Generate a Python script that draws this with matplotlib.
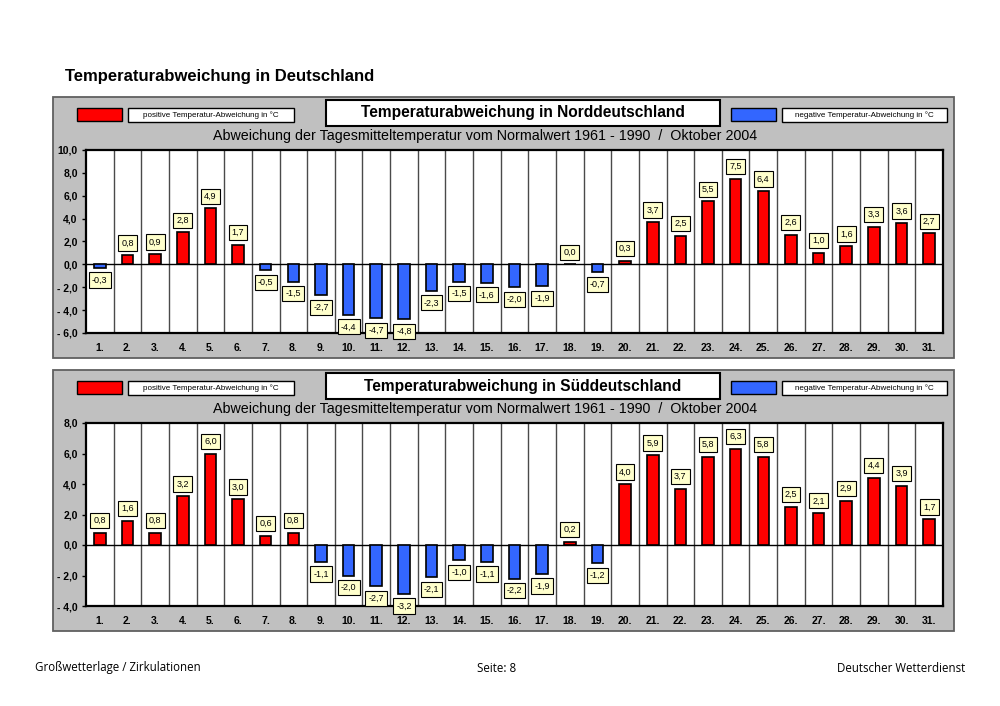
import matplotlib
matplotlib.use("Agg")
import matplotlib.pyplot as plt
from matplotlib.patches import Rectangle
import numpy as np

days = [f"{d}." for d in range(1, 32)]
north = [-0.3, 0.8, 0.9, 2.8, 4.9, 1.7, -0.5, -1.5, -2.7, -4.4, -4.7, -4.8, -2.3, -1.5, -1.6,
         -2.0, -1.9, 0.0, -0.7, 0.3, 3.7, 2.5, 5.5, 7.5, 6.4, 2.6, 1.0, 1.6, 3.3, 3.6, 2.7]
south = [0.8, 1.6, 0.8, 3.2, 6.0, 3.0, 0.6, 0.8, -1.1, -2.0, -2.7, -3.2, -2.1, -1.0, -1.1,
         -2.2, -1.9, 0.2, -1.2, 4.0, 5.9, 3.7, 5.8, 6.3, 5.8, 2.5, 2.1, 2.9, 4.4, 3.9, 1.7]
north_ticks = [-6, -4, -2, 0, 2, 4, 6, 8, 10]
south_ticks = [-4, -2, 0, 2, 4, 6, 8]

page_title = "Temperaturabweichung in Deutschland"
titles = ["Temperaturabweichung in Norddeutschland", "Temperaturabweichung in Süddeutschland"]
subtitle = "Abweichung der Tagesmitteltemperatur vom Normalwert 1961 - 1990  /  Oktober 2004"
pos_label = "positive Temperatur-Abweichung in °C"
neg_label = "negative Temperatur-Abweichung in °C"

RED = "#ff0000"
BLUE = "#3366ff"
GRAY = "#c0c0c0"
FONT = "Liberation Sans"

W, H = 1000, 706
fig = plt.figure(figsize=(W / 100, H / 100), dpi=100)
fig.patch.set_facecolor("white")


def fx(x):
    return x / W


def fy(y):
    return 1 - y / H


def frect(x0, y0, x1, y1, z=-1, **kw):
    r = Rectangle((fx(x0), fy(y1)), fx(x1 - x0), (y1 - y0) / H, transform=fig.transFigure,
                  zorder=z, **kw)
    fig.patches.append(r)
    return r


fig.text(fx(65), fy(76), page_title, fontsize=12, fontweight="bold", family=FONT,
         ha="left", va="center")


def fmt_tick(v):
    s = f"{abs(v):.1f}".replace(".", ",")
    return ("- " + s) if v < 0 else s


def panel(top, values, ticks, title):
    # panel background
    frect(53, top, 954, top + 261, z=-2, facecolor=GRAY, edgecolor="#606060", linewidth=1.3)
    # legend swatches and labels
    frect(77, top + 11, 122, top + 24, facecolor=RED, edgecolor="black", linewidth=1)
    frect(128, top + 11, 294, top + 25, facecolor="white", edgecolor="black", linewidth=1)
    fig.text(fx(211), fy(top + 18), pos_label, fontsize=5.8, family=FONT, ha="center", va="center")
    frect(731, top + 11, 776, top + 24, facecolor=BLUE, edgecolor="black", linewidth=1)
    frect(782, top + 11, 947, top + 25, facecolor="white", edgecolor="black", linewidth=1)
    fig.text(fx(864.5), fy(top + 18), neg_label, fontsize=5.8, family=FONT, ha="center", va="center")
    # title box
    frect(326, top + 3, 720, top + 29, facecolor="white", edgecolor="black", linewidth=1.5)
    fig.text(fx(523), fy(top + 16), title, fontsize=11.2, fontweight="bold", family=FONT,
             ha="center", va="center")
    fig.text(fx(485), fy(top + 39), subtitle, fontsize=10.3, family=FONT, ha="center", va="center",
             color="black")

    ax = fig.add_axes([fx(86), fy(top + 236), fx(943 - 86), 183 / H])
    ax.set_facecolor("white")
    x = np.arange(len(values))
    colors = [RED if v >= 0 else BLUE for v in values]
    ax.bar(x, values, width=0.42, color=colors, edgecolor="black", linewidth=1.2, zorder=3)
    ax.set_xlim(-0.5, len(values) - 0.5)
    ax.set_ylim(ticks[0], ticks[-1])
    for b in np.arange(0.5, len(values) - 0.5, 1):
        ax.axvline(b, color="#4a4a4a", linewidth=1.0, zorder=1)
    ax.axhline(0, color="black", linewidth=1, zorder=2)
    ax.set_yticks(ticks)
    ax.set_yticklabels([fmt_tick(t) for t in ticks], fontsize=7.5, fontweight="bold", family=FONT)
    ax.set_xticks(x)
    ax.set_xticklabels(days, fontsize=7.5, fontweight="bold", family=FONT)
    ax.tick_params(axis="x", length=0, pad=7)
    ax.tick_params(axis="y", length=3, width=1, direction="out", pad=3)
    for s in ax.spines.values():
        s.set_linewidth(1.6)
        s.set_color("black")
    for xi, v in zip(x, values):
        lab = f"{v:.1f}".replace(".", ",")
        if v >= 0:
            off, va = 5.5, "bottom"
        else:
            off, va = -5.5, "top"
        ax.annotate(lab, (xi, v), xytext=(0, off), textcoords="offset points", ha="center", va=va,
                    fontsize=6.5, family=FONT, zorder=5, annotation_clip=False,
                    bbox=dict(boxstyle="square,pad=0.35", facecolor="#ffffcc", edgecolor="black",
                              linewidth=0.8))
    return ax


panel(97, north, north_ticks, titles[0])
panel(370, south, south_ticks, titles[1])

FOOT = "Open Sans"
fig.text(fx(35), fy(668), "Großwetterlage / Zirkulationen", fontsize=8.3, family=FOOT, ha="left", va="center")
fig.text(fx(497), fy(668), "Seite: 8", fontsize=8.3, family=FOOT, ha="center", va="center")
fig.text(fx(965), fy(668), "Deutscher Wetterdienst", fontsize=8.3, family=FOOT, ha="right", va="center")

fig.savefig("out.png", dpi=100)
